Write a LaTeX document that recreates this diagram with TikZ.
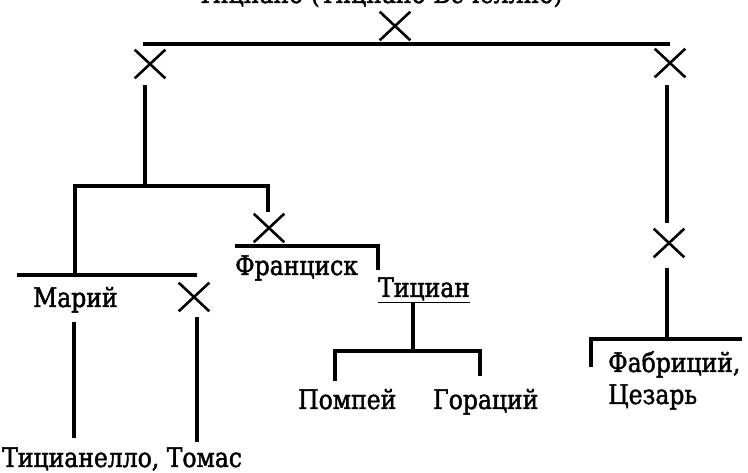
\documentclass[tikz,border=0pt]{standalone}
\usepackage{fontspec}
\setmainfont{DejaVu Serif}
\newfontfamily\namefont{DejaVu Serif}[FakeBold=1.6,FakeStretch=0.87]
\usetikzlibrary{shapes.misc}
\begin{document}
\begin{tikzpicture}[x=1pt,y=-1pt,
  link/.style={line width=3.1pt},
  cross/.style={cross out,draw,line width=2.6pt,minimum width=28pt,minimum height=26pt,inner sep=0pt},
  lbl/.style={inner sep=0pt,font=\namefont\fontsize{27}{31}\selectfont},
]
\useasboundingbox (0,0) rectangle (748,473);
\clip (0,0) rectangle (748,473);

% --- names ---
\node[lbl,anchor=base] (root) at (380,3) {Тициано (Тициано Вечеллио)};
\node[lbl,anchor=base west] (franc) at (235,275) {Франциск};
\node[lbl,anchor=base west] (tician) at (378,297) {\underline{Тициан}};
\node[lbl,anchor=base west] (marij) at (33,307) {Марий};
\node[lbl,anchor=base west] (tizn) at (2,467) {Тицианелло, Томас};
\node[lbl,anchor=base west] (pomp) at (298,409) {Помпей};
\node[lbl,anchor=base west] (horac) at (433,409) {Гораций};
\node[lbl,anchor=base west] (fabr) at (608,372) {Фабриций,};
\node[lbl,anchor=base west] (caes) at (608,404) {Цезарь};

% --- unnamed persons ---
\node[cross] (x0) at (395,26) {};
\node[cross] (xL) at (150,64) {};
\node[cross] (xR) at (670,63) {};
\node[cross] (xF) at (269,228) {};
\node[cross] (xM) at (194,297) {};
\node[cross] (xR2) at (669,243) {};

% --- junctions ---
\coordinate (topL) at (143,44);  \coordinate (topR) at (670,44);
\coordinate (aL) at (145,85);    \coordinate (aJ) at (145,186);
\coordinate (bL) at (75,186);    \coordinate (bR) at (268,186);
\coordinate (bRe) at (268,212);
\coordinate (cL) at (17,275);    \coordinate (cJ) at (75,275);
\coordinate (cR) at (197,275);
\coordinate (fL) at (235,246);   \coordinate (fR) at (378,246);
\coordinate (fRe) at (378,270);
\coordinate (mV1) at (74,322);   \coordinate (mV2) at (74,438);
\coordinate (tV1) at (197,317);  \coordinate (tV2) at (197,442);
\coordinate (tJ) at (413,351);   \coordinate (tL) at (335,351);
\coordinate (tR) at (480,351);
\coordinate (tLe) at (335,381);  \coordinate (tRe) at (480,376);
\coordinate (rV1) at (667,85);   \coordinate (rV2) at (667,223);
\coordinate (rV3) at (667,268);  \coordinate (rJ) at (667,339);
\coordinate (rL) at (591,339);   \coordinate (rR) at (742,339);
\coordinate (rLe) at (591,367);

% --- lines of descent ---
\draw[link] (topL) -- (topR);
\draw[link] (aL) -- (aJ);
\draw[link] (cJ) -- (bL) -- (bR) -- (bRe);
\draw[link] (cL) -- (cR);
\draw[link] (fL) -- (fR) -- (fRe);
\draw[link] (mV1) -- (mV2);
\draw[link] (tV1) -- (tV2);
\draw[link] (tician.south -| tJ) -- (tJ);
\draw[link] (tLe) -- (tL) -- (tR) -- (tRe);
\draw[link] (rV1) -- (rV2);
\draw[link] (rV3) -- (rJ);
\draw[link] (rLe) -- (rL) -- (rR);
\end{tikzpicture}
\end{document}
